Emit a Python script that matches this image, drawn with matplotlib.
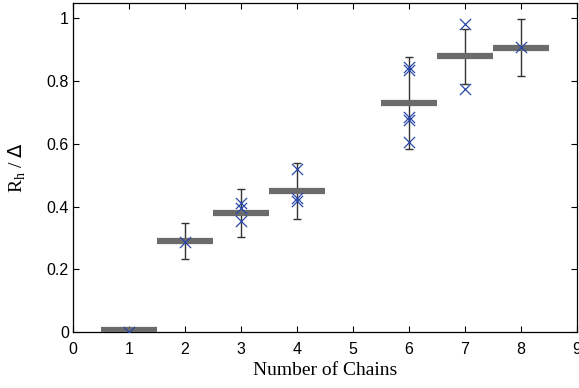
import matplotlib
matplotlib.use("Agg")
import matplotlib.pyplot as plt
import numpy as np

chains = [1, 2, 3, 4, 6, 7, 8]
means = [0.008, 0.291, 0.381, 0.450, 0.729, 0.878, 0.905]
err_low = [0.008, 0.232, 0.304, 0.361, 0.584, 0.790, 0.815]
err_high = [0.008, 0.348, 0.456, 0.540, 0.875, 0.967, 0.996]
samples_x = [1, 2, 3, 3, 3, 4, 4, 4, 6, 6, 6, 6, 6, 7, 7, 8]
samples_y = [0.0, 0.288, 0.410, 0.394, 0.354, 0.520, 0.426, 0.417,
             0.845, 0.834, 0.686, 0.675, 0.606, 0.981, 0.773, 0.909]

fig = plt.figure(figsize=(5.79, 3.88), dpi=100)
ax = fig.add_axes([0.126, 0.144, 0.8705, 0.848])

means_a = np.array(means)
yerr = [means_a - np.array(err_low), np.array(err_high) - means_a]
ax.errorbar(chains, means, yerr=yerr, fmt='none', ecolor='#333333',
            elinewidth=1.0, capsize=3, capthick=1.0, zorder=2)
ax.hlines(means, np.array(chains) - 0.5, np.array(chains) + 0.5,
          colors='#6b6b6b', linewidth=4.5, zorder=3)
ax.scatter(samples_x, samples_y, marker='x', s=65, color='#2a48a8',
           linewidths=0.9, zorder=4)

ax.set_xlim(0, 9)
ax.set_ylim(0, 1.048)
ax.set_xticks(range(10))
ax.set_yticks([0, 0.2, 0.4, 0.6, 0.8, 1.0])
ax.set_yticklabels(['0', '0.2', '0.4', '0.6', '0.8', '1'])
ax.tick_params(direction='in', top=True, right=True, length=4,
               labelsize=11.5)
ax.tick_params(axis='x', pad=7)
ax.tick_params(axis='y', pad=3)
for lab in ax.get_xticklabels() + ax.get_yticklabels():
    lab.set_family('Liberation Sans')
ax.set_xlabel('Number of Chains', family='Liberation Serif', fontsize=14, labelpad=4)
ax.set_ylabel(r'R$_\mathregular{h}$ / $\Delta$', family='Liberation Serif', fontsize=14, labelpad=13)
for s in ax.spines.values():
    s.set_linewidth(0.9)

fig.savefig('out.png', dpi=100)
